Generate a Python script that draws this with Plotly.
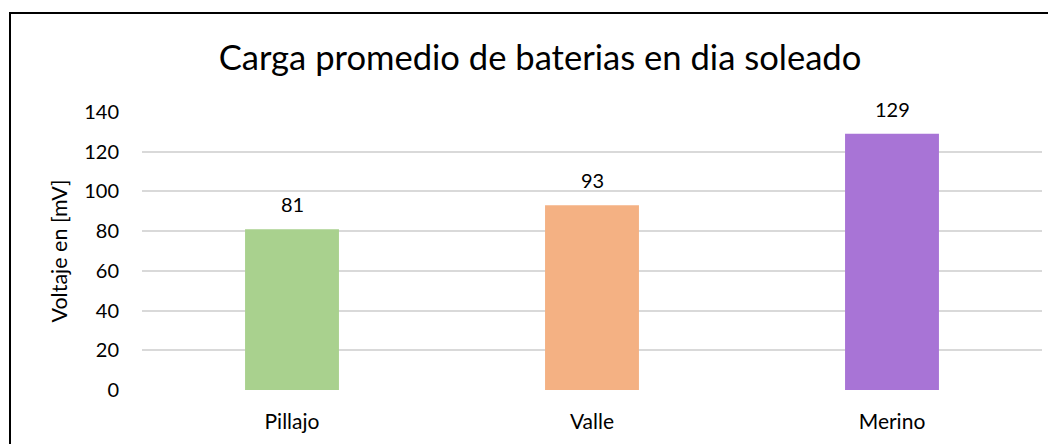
import plotly.graph_objects as go

categories = ["Pillajo", "Valle", "Merino"]
values = [81, 93, 129]
colors = ["#A9D18E", "#F4B183", "#A874D6"]
y_ticks = [0, 20, 40, 60, 80, 100, 120, 140]

FONT = "Lato, Calibri, sans-serif"

# page body has an 8px margin; figure is sized / positioned to compensate
W, H = 1048, 436
L, R, T, B = 134, 14, 104, 54
PW, PH = W - L - R, H - T - B

fig = go.Figure()
fig.add_trace(go.Bar(
    x=categories, y=values, marker=dict(color=colors, line=dict(width=0)),
    width=0.313, hoverinfo="x+y",
))

for c, v in zip(categories, values):
    fig.add_annotation(x=c, y=v, text=str(v), showarrow=False,
                       yanchor="bottom", yshift=11,
                       font=dict(family=FONT, size=20, color="#000000"))

fig.update_layout(
    width=W, height=H,
    margin=dict(l=L, r=R, t=T, b=B),
    paper_bgcolor="white", plot_bgcolor="white",
    showlegend=False,
    font=dict(family=FONT, size=20, color="#000000"),
    title=dict(text="Carga promedio de baterias en dia soleado",
               x=532 / W, xanchor="center", y=1 - 50 / H, yanchor="middle",
               font=dict(family=FONT, size=34.6, color="#000000")),
    xaxis=dict(showgrid=False, zeroline=False, showline=False, ticks="",
               ticklabelstandoff=17, tickfont=dict(size=21)),
    yaxis=dict(range=[0, 140], tickvals=y_ticks, showgrid=True,
               gridcolor="#D9D9D9", gridwidth=1.5, zeroline=False, showline=False,
               ticks="", ticklabelstandoff=22, tickfont=dict(size=20),
               title=dict(text="Voltaje en [mV]", standoff=10,
                          font=dict(family=FONT, size=21.5))),
    shapes=[dict(type="rect", xref="paper", yref="paper",
                 x0=(2 - L) / PW, x1=1.2, y0=-0.5, y1=(PH + T - 5) / PH,
                 line=dict(color="#000000", width=2), fillcolor="rgba(0,0,0,0)",
                 layer="below")],
)

fig.write_html("out.html")
